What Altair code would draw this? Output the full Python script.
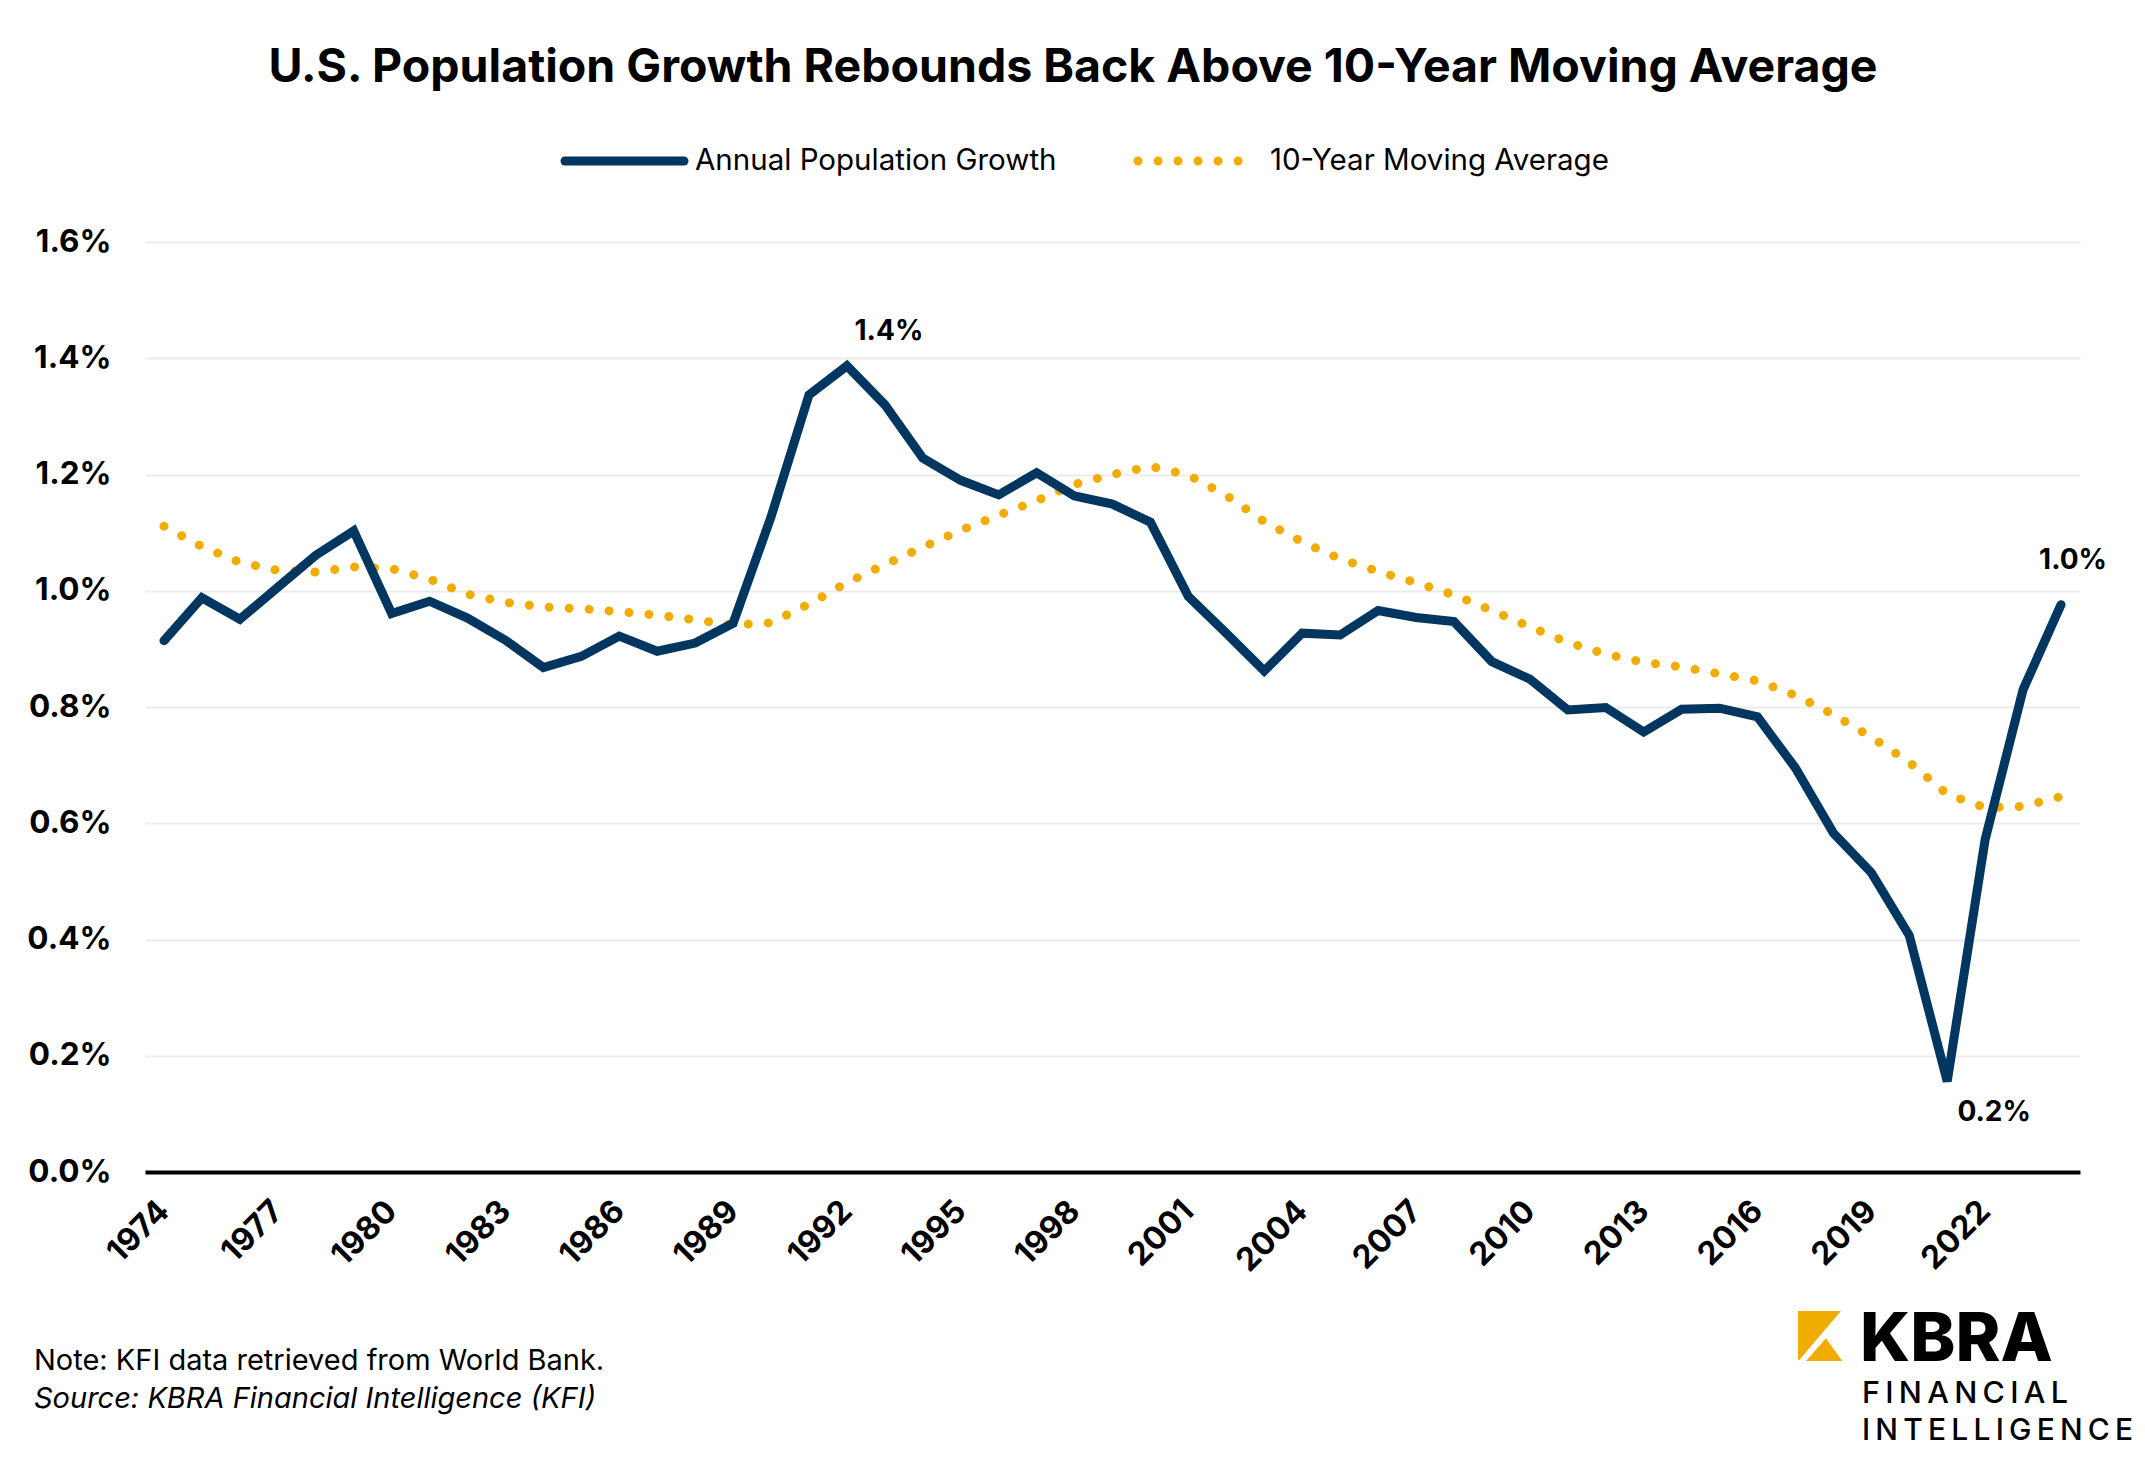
import altair as alt
import pandas as pd

# ---------------- data ----------------
years = list(range(1974, 2025))
annual_growth = [
    0.914, 0.988, 0.951, 1.006, 1.061, 1.103, 0.961, 0.982, 0.953, 0.915,
    0.868, 0.887, 0.922, 0.896, 0.910, 0.944, 1.127, 1.337, 1.387, 1.320,
    1.228, 1.190, 1.165, 1.203, 1.163, 1.149, 1.118, 0.990, 0.927, 0.862,
    0.927, 0.924, 0.966, 0.954, 0.947, 0.878, 0.848, 0.795, 0.799, 0.757,
    0.796, 0.798, 0.783, 0.695, 0.583, 0.515, 0.407, 0.156, 0.572, 0.830,
    0.976,
]
moving_avg = [
    1.111, 1.076, 1.049, 1.035, 1.032, 1.041, 1.038, 1.020, 0.994, 0.980,
    0.972, 0.969, 0.964, 0.958, 0.950, 0.941, 0.945, 0.977, 1.014, 1.045,
    1.075, 1.104, 1.130, 1.155, 1.183, 1.200, 1.214, 1.199, 1.164, 1.119,
    1.084, 1.055, 1.033, 1.014, 0.993, 0.966, 0.938, 0.911, 0.891, 0.877,
    0.869, 0.857, 0.845, 0.820, 0.787, 0.748, 0.705, 0.650, 0.627, 0.629,
    0.646,
]
tick_years = list(range(1974, 2023, 3))
y_ticks = [0.0, 0.2, 0.4, 0.6, 0.8, 1.0, 1.2, 1.4, 1.6]
series_names = ["Annual Population Growth", "10-Year Moving Average"]
title_text = "U.S. Population Growth Rebounds Back Above 10-Year Moving Average"
note_text = "Note: KFI data retrieved from World Bank."
source_text = "Source: KBRA Financial Intelligence (KFI)"
logo_words = ["KBRA", "FINANCIAL", "INTELLIGENCE"]

NAVY = "#00365F"
GOLD = "#F0AD00"
FONT = "Inter"

df = pd.DataFrame({"year": years, "annual": annual_growth, "ma": moving_avg})
one = pd.DataFrame({"k": [0]})

W, H = 1935, 930

x_enc = alt.X(
    "year:O",
    scale=alt.Scale(type="point", padding=0.5),
    axis=alt.Axis(
        values=tick_years, labelAngle=-45, labelFont=FONT, labelFontSize=32,
        labelFontWeight="bold", labelColor="black", ticks=False,
        domainColor="black", domainWidth=4, labelPadding=23, labelOffset=-11,
        title=None, grid=False,
    ),
)
y_scale = alt.Scale(domain=[0, 1.6], nice=False)
y_axis = alt.Axis(
    values=y_ticks, labelExpr="format(datum.value, '.1f') + '%'",
    domain=False, ticks=False, gridColor="#ececec", gridWidth=2,
    labelFont=FONT, labelFontSize=31.5, labelFontWeight="bold",
    labelColor="black", labelPadding=34, title=None,
)

base = alt.Chart(df)

ma_line = base.mark_line(
    color=GOLD, strokeWidth=9, strokeDash=[0.01, 20], strokeCap="round"
).encode(x=x_enc, y=alt.Y("ma:Q", scale=y_scale, axis=y_axis))

annual_line = base.mark_line(
    color=NAVY, strokeWidth=9, strokeCap="round"
).encode(x=x_enc, y=alt.Y("annual:Q", scale=y_scale, axis=y_axis))


def callout(yr, dx, dy):
    return (
        base.transform_filter(alt.datum.year == yr)
        .transform_calculate(label="format(datum.annual, '.1f') + '%'")
        .mark_text(dx=dx, dy=dy, font=FONT, fontSize=28, fontWeight="bold",
                   color="black", align="center", baseline="alphabetic")
        .encode(x=x_enc, y=alt.Y("annual:Q", scale=y_scale, axis=y_axis),
                text="label:N")
    )


callouts = [callout(1992, 42, -26), callout(2021, 47, 40), callout(2024, 12, -36)]

deco = alt.Chart(one)


def txt(s, x, y, size, weight="normal", style="normal", align="left",
        baseline="alphabetic"):
    return deco.mark_text(
        text=s, font=FONT, fontSize=size, fontWeight=weight, fontStyle=style,
        align=align, baseline=baseline, color="black",
    ).encode(x=alt.value(x), y=alt.value(y))


title = txt(title_text, 928, -160, 46.5, weight="bold", align="center")

leg_rule1 = deco.mark_rule(color=NAVY, strokeWidth=9, strokeCap="round").encode(
    x=alt.value(420), x2=alt.value(539), y=alt.value(-81))
leg_txt1 = txt(series_names[0], 550, -81, 29.5, baseline="middle")
leg_rule2 = deco.mark_rule(color=GOLD, strokeWidth=9, strokeCap="round",
                           strokeDash=[0.01, 20]).encode(
    x=alt.value(993), x2=alt.value(1094), y=alt.value(-81))
leg_txt2 = txt(series_names[1], 1125, -81, 29.5, baseline="middle")

note = txt(note_text, -111, 1128, 29)
source = txt(source_text, -111, 1166, 29, style="italic")

logo_shape = deco.mark_point(
    shape="M-0.88,-1L0.84,-1L-0.83,0.96L-0.88,0.96Z M-0.56,1L0.24,0.09L0.89,1Z",
    filled=True, color=GOLD, opacity=1, size=2500, strokeWidth=0,
).encode(x=alt.value(1675), y=alt.value(1094))
thin = "\u2009"
logo1 = txt(logo_words[0], 1715, 1119, 68, weight=800)
logo2 = txt(thin.join(logo_words[1]), 1717, 1161, 30.5, weight=500)
logo3 = txt(thin.join(logo_words[2]), 1717, 1198, 30, weight=500)

chart = alt.layer(
    ma_line, annual_line, *callouts, title, leg_rule1, leg_txt1, leg_rule2,
    leg_txt2, note, source, logo_shape, logo1, logo2, logo3,
).properties(
    width=W, height=H,
    padding={"left": 137, "top": 234, "right": 57, "bottom": 276},
    autosize=alt.AutoSizeParams(type="none"),
    background="white",
).configure_view(stroke=None)

chart.save("out.html", embed_options={"renderer": "svg", "actions": False})
